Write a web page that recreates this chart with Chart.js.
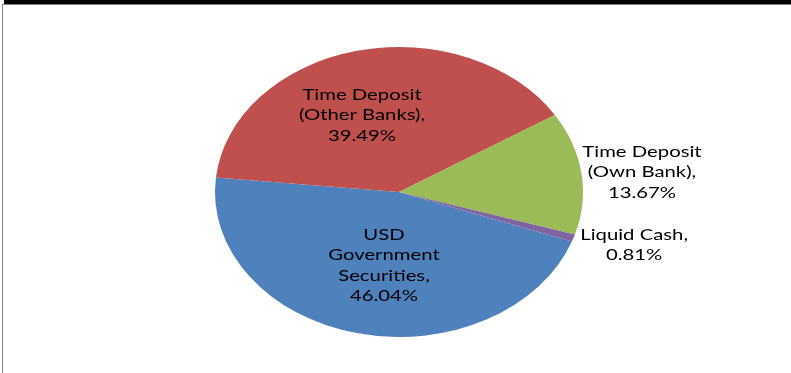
<!DOCTYPE html>
<html>
<head>
<meta charset="utf-8">
<script src="https://cdn.jsdelivr.net/npm/chart.js@4.4.1/dist/chart.umd.min.js"></script>
<style>
  body { margin: 0; background: #fff; }
  #wrap { position: relative; width: 791px; height: 373px; overflow: hidden; }
  #topBar { position: absolute; left: 4px; top: 0; width: 787px; height: 4px; background: #000; }
  #topLine { position: absolute; left: 2px; top: 4px; width: 789px; height: 1px; background: #858585; }
  #leftLine { position: absolute; left: 2px; top: 4px; width: 1px; height: 369px; background: #858585; }
  #portfolioPie { position: absolute; left: 0; top: 0; }
</style>
</head>
<body>
<div id="wrap">
  <div id="topBar"></div>
  <div id="topLine"></div>
  <div id="leftLine"></div>
  <canvas id="portfolioPie" width="791" height="373"></canvas>
</div>
<script>
// categories and their share of the portfolio (%)
const categories = [
  ['USD', 'Government', 'Securities,'],
  ['Time Deposit', '(Other Banks),'],
  ['Time Deposit', '(Own Bank),'],
  ['Liquid Cash,']
];
const shares = [46.04, 39.49, 13.67, 0.81];
const shareLabels = ['46.04%', '39.49%', '13.67%', '0.81%'];
const sliceColors = ['#4F81BD', '#C0504D', '#9BBB59', '#8064A2'];

// the old Excel chart was stretched sideways, so the pie is an ellipse
const stretchX = 184 / 145;

// where each data label sits: fraction of the radius, and a small turn (degrees) off the slice middle
const labelRadius = [0.507, 0.571, 1.328, 1.328];
const labelTurn = [-3.6, -7.4, 1.4, -2.75];

/**
 * Stretches the pie horizontally and writes the Excel style data labels
 */
const ellipsePlugin = {
  id: 'ellipsePie',
  beforeDatasetsDraw (chart) {
    const arc = chart.getDatasetMeta(0).data[0];
    const ctx = chart.ctx;
    ctx.save();
    ctx.translate(arc.x, 0);
    ctx.scale(stretchX, 1);
    ctx.translate(-arc.x, 0);
  },
  afterDatasetsDraw (chart) {
    chart.ctx.restore();
  },
  afterDraw (chart) {
    const ctx = chart.ctx;
    const arcs = chart.getDatasetMeta(0).data;
    const lineHeight = 20.5;
    const capHalf = 5.8;
    ctx.save();
    ctx.translate(arcs[0].x, 0);
    ctx.scale(stretchX, 1);
    ctx.translate(-arcs[0].x, 0);
    ctx.fillStyle = '#000';
    ctx.font = '16px Lato';
    ctx.textAlign = 'center';
    ctx.textBaseline = 'alphabetic';
    for (let i = 0; i < arcs.length; i++) {
      const a = arcs[i];
      const mid = (a.startAngle + a.endAngle) / 2 + labelTurn[i] * Math.PI / 180;
      const r = a.outerRadius * labelRadius[i];
      const x = a.x + Math.cos(mid) * r;
      const y = a.y + Math.sin(mid) * r;
      const lines = categories[i].concat([shareLabels[i]]);
      const firstBase = y - (lines.length - 1) * lineHeight / 2 + capHalf;
      lines.forEach((t, j) => {
        ctx.fillText(t, x, firstBase + j * lineHeight);
      });
    }
    ctx.restore();
  }
};

const data = {
  labels: categories.map(c => c.join(' ')),
  datasets: [{
    data: shares,
    backgroundColor: sliceColors,
    borderWidth: 0
  }]
};

const config = {
  type: 'pie',
  data: data,
  options: {
    responsive: false,
    animation: false,
    rotation: 110,
    layout: {
      padding: { left: 254, right: 247, top: 47, bottom: 36 }
    },
    plugins: {
      legend: { display: false },
      tooltip: { enabled: false }
    }
  },
  plugins: [ellipsePlugin]
};

const myChart = new Chart(
  document.getElementById('portfolioPie'),
  config
);
</script>
</body>
</html>
